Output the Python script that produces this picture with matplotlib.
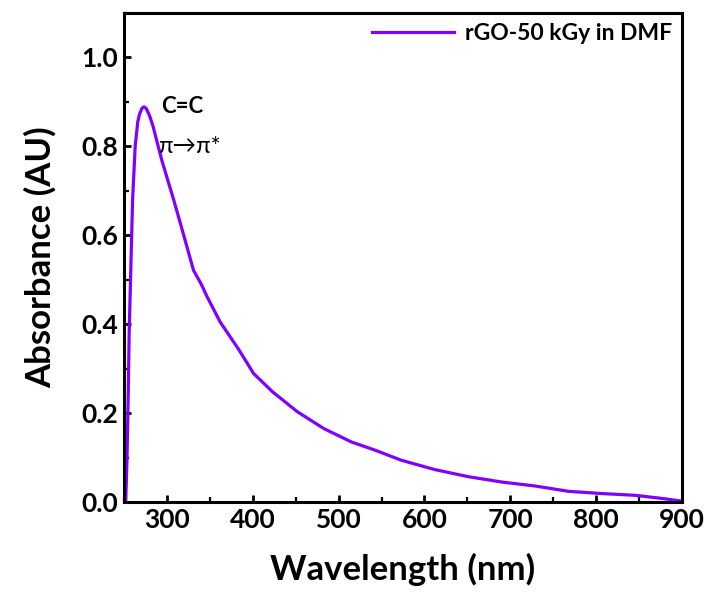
import matplotlib.pyplot as plt
from matplotlib.ticker import MultipleLocator

# UV-vis absorbance of rGO (50 kGy) dispersed in DMF
wavelength = [252, 253.5, 255, 256, 258, 260, 263, 266, 268, 271, 273.4, 276, 280,
              284, 294, 308, 319, 331, 340, 347, 362, 383, 401, 423, 452, 483,
              515, 542, 573, 612, 651, 690, 729, 768, 807, 846, 877, 900]
absorbance = [0.0, 0.10, 0.25, 0.38, 0.53, 0.68, 0.80, 0.855, 0.872, 0.886, 0.889, 0.885, 0.868,
              0.844, 0.769, 0.679, 0.604, 0.521, 0.490, 0.461, 0.405, 0.345, 0.289, 0.248, 0.203, 0.165,
              0.135, 0.117, 0.094, 0.073, 0.057, 0.045, 0.036, 0.024, 0.019, 0.015, 0.008, 0.002]

plt.rcParams['font.family'] = ['Lato', 'DejaVu Sans']
plt.rcParams['font.weight'] = 'bold'

fig = plt.figure(figsize=(7.07, 5.92), dpi=100)
ax = fig.add_axes([0.1754, 0.152, 0.7892, 0.826])

ax.plot(wavelength, absorbance, color='#8000ff', lw=2.3, label='rGO-50 kGy in DMF')

ax.set_xlim(250, 900)
ax.set_ylim(0, 1.1)
ax.xaxis.set_minor_locator(MultipleLocator(50))
ax.yaxis.set_minor_locator(MultipleLocator(0.1))
ax.set_xticks([300, 400, 500, 600, 700, 800, 900])
ax.set_yticks([0.0, 0.2, 0.4, 0.6, 0.8, 1.0])
ax.set_yticklabels(['0.0', '0.2', '0.4', '0.6', '0.8', '1.0'])

ax.tick_params(which='both', direction='in', labelsize=19, pad=4)
ax.tick_params(which='major', length=5, width=2)
ax.tick_params(which='minor', length=3.5, width=1.6)
for s in ax.spines.values():
    s.set_linewidth(2.2)

ax.set_xlabel('Wavelength (nm)', fontsize=25, fontweight='bold', labelpad=15)
ax.set_ylabel('Absorbance (AU)', fontsize=25, fontweight='bold', labelpad=18)

ax.text(293, 0.875, 'C=C', fontsize=16, fontweight='bold')
ax.text(290, 0.785, 'π→π*', fontsize=17, fontweight='normal')

leg = ax.legend(loc='upper right', frameon=False, fontsize=16.5, handlelength=3.6,
                borderaxespad=0.05, handletextpad=0.45)

fig.savefig('out.png', dpi=100)
